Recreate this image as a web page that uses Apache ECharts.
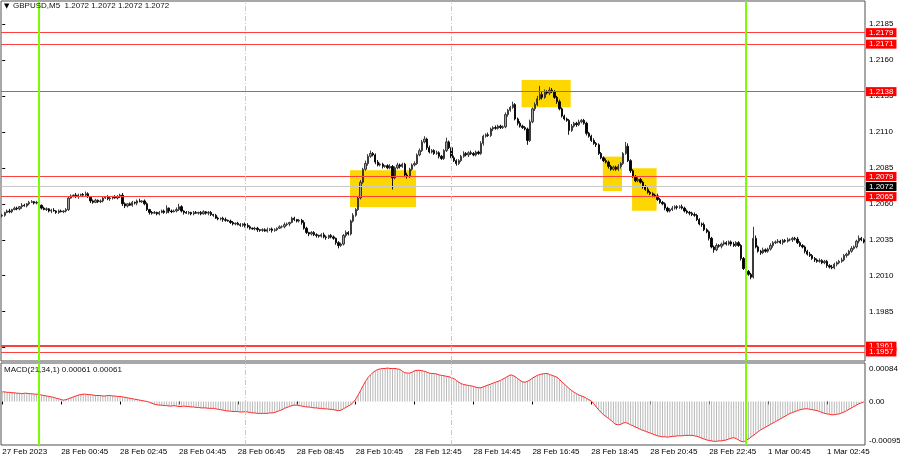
<!DOCTYPE html>
<html><head><meta charset="utf-8">
<script src="https://cdn.jsdelivr.net/npm/echarts@6/dist/echarts.min.js"></script>
<style>html,body{margin:0;padding:0;background:#fff}#c{width:900px;height:460px}</style>
</head><body><div id="c"></div>
<script>
// ---------- data (prices in pips above basePrice) ----------
const symbolText = 'GBPUSD,M5';
const headerQuote = '1.2072 1.2072 1.2072 1.2072';
const macdTitle = 'MACD(21,34,1) 0.00061 0.00061';
const basePrice = 1.2000;
const firstOpen = 51.5;
const closes = [
52,54,55,54.5,56,57,56.5,58,59,58.5,60,61,61.5,60.5,61,59,
57,56,56.5,55,55.5,55,54,55,54.5,55,56,64,65.5,66,65,66,
66.5,66,67,65,62,61,62.5,61.5,62,64,64.5,63.5,64,65,64,65,
66,60,58.5,60,59,61,60.5,62,61.5,62,60,56,54,53.5,54,53,
54,55,54,57,55,54.5,55,56,58,55,54,53.5,54,53,54,53.5,
54,53,54.5,53.5,54,52.5,52,50,49.5,50,49,48.5,48,47,46,46.5,
45.5,45,46,45,44,43,42.5,43,42,41.5,42,41,42,42.5,41.5,42,
43,44,44,45.5,46,47,50,49,48,48.5,47,43,40,39,40,38.5,
38,37.5,38.5,37,36.5,38,37,36,33,31,32,38,40,39,48,52,
56,64,75,84,88,93,95,94,89,87,87.5,86,86.5,85,86,78,
85,87,86,87.5,80,79,84,87,88,94,97,103,105,99,96,97,
95,95.5,93,91.5,97,103,99,92,90,88,90,93,95,94,95.5,95,
94,96,95,102,107,108,107.5,112,113,112.5,114,113,113.5,122,125,127,
129,119,116,114,113,112,104,117,126,129,133,136,134,138,137,139,
138,134,131,126,121,119,118,111,114,116,115,117,118,116,109,107,
104,102,101,95,92,90,89,86,84,85.5,84,86,88,95,100,90,
83,79,76,77,75,72,70,68,67,66,65.5,63,61,60,57,55,
56,57,58,57.5,58,57,55,54,53.5,52.5,52,49,46,45.5,42,40.5,
36,30,28,31,30.5,32,33,32,33.5,32,31,33,31,22,15,13,
11,9,36,30,27,26,28,27,28.5,31,33,33.5,34,33,34.5,34,
35,35,36,35.5,33,31,30,27,25,24,22,21,20,20.5,19,20,
17,16,15.5,18,19,20,21,24,25,27,29,30,34,36,35,33.5
];
const wickUp = [
1,0.5,1,1.5,0.5,1,1,0.5,1.5,1,0.5,1,1,0.5,1,1,
0.5,1,1,0.5,1,1.5,0.5,1,1,0.5,1,1,1,0.5,1.5,1,
0.5,1,1.5,1,0.5,1,1,0.5,1,1,0.5,1.5,1,0.5,1,1,
1,1.5,1,0.5,1,1,0.5,1,1.5,0.5,1,1,0.5,1,1,0.5,
1,1,1,2,0.5,1,1,1.5,2,1,0.5,1,1,0.5,1,1,
0.5,1,1,0.5,1,1,0.5,1,1,0.5,1,1.5,0.5,1,1,0.5,
1,1,0.5,1,1.5,1,0.5,1,1,0.5,1,1,1.5,0.5,1,1,
0.5,1,1,1.5,1,0.5,1,1,0.5,1,1,1.5,1,0.5,1,1,
1,0.5,1,1.5,1,0.5,1,1,0.5,1,1,1,1.5,1,1,1.5,
1,1,1.5,1,2,1.5,2,1,1,1.5,1,1,0.5,1,1.5,1,
1,1.5,1,1,1,1.5,1,1,1.5,1,1.5,1.5,2,1,1.5,1,
1,1.5,1,1,1,3,1,1,1.5,1,1,1,1.5,1,1,1.5,
1,1,1,1.5,1,1,1.5,1,1,1.5,1,1,1,1.5,1,1,
2,1,1,1.5,1,1,1,1.5,1,1.5,2,6,2,1.5,1,2,
1.5,1,1,1.5,1,1,1,1,1.5,1,1,1.5,1,1,1,1,
1,1.5,1,1,1,1,1.5,1,1,1,1,1.5,1,1,3,2,
1,1,1,1.5,1,1,1,1.5,1,1,1,1.5,1,1,1,1,
1,1.5,1,1,1,1.5,1,1,1,1,1.5,1,1,1,1.5,1,
1,1,1,1.5,1,1,1.5,1,1,1,1.5,1,1,1,1,1.5,
1,1,8,2,1,1,1.5,1,1,1.5,1,1,1.5,1,1,1,
1.5,1,1,1,1.5,1,1,1,1,1.5,1,1,1,1.5,1,1,
1,1,1.5,1,1,1,1.5,1,1,1,1.5,1,1,2,1,1
];
const wickDown = [
1,1,0.5,1,1,0.5,1,1,1.5,0.5,1,1,0.5,1,1,1,
1,0.5,1,1,1.5,0.5,1,1,0.5,1,1,1,0.5,1,1,1.5,
1,0.5,1,1,1.5,1,0.5,1,1,1,0.5,1,1.5,1,0.5,1,
1,1.5,1.5,1,0.5,1,1,1.5,0.5,1,1,1,1.5,1,0.5,1,
1,0.5,1,1,1.5,1,0.5,1,1,1,1.5,0.5,1,1,1,0.5,
1,1,0.5,1,1.5,1,1,0.5,1,1,1.5,1,0.5,1,1,1,
0.5,1,1,1.5,1,1,0.5,1,1.5,1,1,0.5,1,1,1.5,1,
1,0.5,1,1,1,1.5,0.5,1,1,1,1.5,1,1,1.5,1,1,
1.5,1,1,1,1.5,1,1,1,1.5,2,1,1,1.5,1,1,1,
1,1,1,1,1,1.5,1,1,1.5,1,1,1.5,1,1,1,8,
1,1,1.5,1,1.5,1.5,1,1,1,1,1,1,1,1.5,1,1,
1,1,1.5,1,1,1,1,1.5,1,1.5,1,1,1,1,1.5,1,
1,1,1,1,1.5,1,1,1,1.5,1,1,1,1,1,1.5,1,
1,1,1.5,1,1,1,3,1,1,1.5,1,1,1.5,1,1,1.5,
1,1,1.5,1,1,1,1,3,1,1,1.5,1,1,1,1.5,1,
1,1,1.5,1,1,1,1,1.5,1,1,1,1,1.5,1,1,1,
1.5,1,1,1,1,1.5,1,1,1,1.5,1,1,1,1,1.5,1,
1,1,1,1.5,1,1,1,1,1.5,1,1,1,1,1.5,1,1,
1.5,1,2,1,1,1.5,1,1,1,1.5,1,1,1,1.5,1,1,
1,1.5,1,1,1,1.5,1,1,1,1,1.5,1,1,1,1.5,1,
1,1,1.5,1,1,1,1,1.5,1,1,1,1.5,1,1,1,1,
1.5,1,1,1,1.5,1,1,1,1.5,1,1,1,1,1.5,1,1
];
// MACD main values, in units of 0.00001
const macd = [
21,21,20,20,19,19,18,
18,17,18,18,17,17,16,16,15,
14,13,12,11,10,9,7,6,4,3,
4,6,8,10,12,14,15,16,16,15,
15,14,13,13,13,12,12,13,13,12,12,11,11,
10,9,8,7,6,5,4,3,2,
1,0,-2,-4,-6,-7,-8,
-8,-9,-9,-10,-10,-9,-10,-11,-11,-10,-11,
-11,-12,-12,-13,-13,-14,-14,-14,-15,-15,-15,
-16,-17,-18,-19,-20,-21,-21,-22,
-22,-22,-23,-23,-22,-23,-24,
-25,-25,-26,-26,-26,-26,-26,-25,-25,-24,-22,-20,
-18,-15,-13,-11,-9,-8,-8,-9,
-10,-11,-12,-12,-13,-14,-14,-15,-15,-16,-16,-17,-17,-18,
-19,-20,-19,
-16,-13,-10,-7,
-2,5,14,24,34,44,52,
58,63,67,70,
71,72,72,73,72,72,72,71,70,
66,63,62,62,64,
67,68,68,67,66,64,
62,61,61,60,
58,57,56,55,54,
52,50,46,42,
39,37,36,35,34,33,
31,30,30,
32,34,36,38,40,42,44,46,49,52,55,58,
57,54,50,46,43,42,44,
47,51,54,57,59,60,61,61,
59,57,55,53,
48,43,38,33,28,24,20,17,14,12,10,
7,4,1,
-5,-12,-18,-24,-29,-33,-37,-41,
-46,-50,-51,-50,
-47,-46,-48,
-51,-53,-56,-58,-61,-63,-65,-67,-69,
-71,-73,-75,-76,-77,-77,-78,-77,
-76,-76,-75,-75,-75,-74,-74,-74,-74,-75,-76,
-78,-80,-82,-84,-85,
-86,-87,-87,-86,-86,-85,-84,-82,-80,
-79,-81,-84,
-87,-88,-85,
-82,-78,-74,-70,-66,-62,-59,-56,-53,-50,-47,-44,-41,-38,-35,
-32,-29,-26,-24,-22,-20,-18,
-17,-16,-16,
-17,-18,-19,-20,
-22,-24,-26,-27,-28,-29,-29,
-28,-27,-25,-23,
-20,-17,-14,-11,-8,-5,-3,-1
];
const levels = [1.2179, 1.2171, 1.2138, 1.2079, 1.2065, 1.1961, 1.1957];
const bidPrice = 1.2072;
const priceTicks = [1.2185, 1.2160, 1.2135, 1.2110, 1.2085, 1.2060, 1.2035, 1.2010, 1.1985, 1.1960];
const macdTicks = [84, 0, -95];
const macdTickLabels = ['0.00084', '0.00', '-0.00095'];
const timeTickIdx = [0, 24, 48, 72, 96, 120, 144, 168, 192, 216, 240, 264, 288, 312, 336];
const timeTickLabels = ['27 Feb 2023', '28 Feb 00:45', '28 Feb 02:45', '28 Feb 04:45', '28 Feb 06:45',
  '28 Feb 08:45', '28 Feb 10:45', '28 Feb 12:45', '28 Feb 14:45', '28 Feb 16:45', '28 Feb 18:45',
  '28 Feb 20:45', '28 Feb 22:45', '1 Mar 00:45', '1 Mar 02:45'];
const dayLineIdx = [15, 303];      // 28 Feb 00:00, 1 Mar 00:00
const sessionLineIdx = [99, 183];  // 28 Feb 07:00, 28 Feb 14:00
// highlighted zones: [startBar, topPrice, endBar, bottomPrice]
const zoneStart = [141.7, 211.6, 244.7, 256.6];
const zoneEnd = [168.6, 231.6, 252.5, 266.6];
const zoneTop = [1.20833, 1.21461, 1.20928, 1.20847];
const zoneBottom = [1.20578, 1.21271, 1.20689, 1.20552];

// ---------- build ----------
const P = p => +(basePrice + p / 10000).toFixed(5);
const N = closes.length;
const candles = closes.map((c, i) => {
  const o = i === 0 ? firstOpen : closes[i - 1];
  return [i, P(o), P(c), P(Math.min(o, c) - wickDown[i]), P(Math.max(o, c) + wickUp[i])];
});
const macdData = macd.map((v, i) => [i, v]);
const FONT = 'Liberation Sans, DejaVu Sans, sans-serif';
const xMin = -0.5, xMax = N - 0.5;

const vLines = [
  ...dayLineIdx.map(x => ({ xAxis: x, lineStyle: { color: '#7cfc00', width: 2, type: 'solid' } })),
  ...sessionLineIdx.map(x => ({ xAxis: x, lineStyle: { color: '#a6f05a', width: 1, type: [5, 2, 1, 2] } }))
];
const lvlLabel = bg => ({ show: true, position: 'end', distance: 1, formatter: p => (+p.value).toFixed(4), color: '#fff',
  backgroundColor: bg, padding: [1, 3, 0, 3], fontSize: 8, fontFamily: FONT });

const chart = echarts.init(document.getElementById('c'), null, { renderer: 'canvas' });
chart.setOption({
  animation: false,
  backgroundColor: '#ffffff',
  textStyle: { fontFamily: FONT },
  graphic: [
    { type: 'text', left: 4, top: 3, z: 100, style: { text: '▼', fontSize: 7, fill: '#000', fontFamily: 'DejaVu Sans' } },
    { type: 'text', left: 13, top: 2, z: 100, style: { text: symbolText + '  ' + headerQuote, fontSize: 8, fill: '#111', fontFamily: FONT } },
    { type: 'text', left: 4, top: 366, z: 100, style: { text: macdTitle, fontSize: 8, fill: '#111', fontFamily: FONT } }
  ],
  grid: [
    { left: 1, top: 1, width: 864, height: 360, show: true, borderColor: '#505050', borderWidth: 1, backgroundColor: 'transparent', outerBoundsMode: 'none', containLabel: false },
    { left: 1, top: 363, width: 864, height: 82, show: true, borderColor: '#505050', borderWidth: 1, backgroundColor: 'transparent', outerBoundsMode: 'none', containLabel: false }
  ],
  xAxis: [
    { type: 'value', gridIndex: 0, min: xMin, max: xMax, show: false, splitLine: { show: false } },
    { type: 'value', gridIndex: 1, min: xMin, max: xMax, splitLine: { show: false },
      axisLine: { show: false },
      axisTick: { show: true, length: 3, customValues: timeTickIdx, lineStyle: { color: '#000' } },
      axisLabel: { customValues: timeTickIdx, align: 'left', margin: 3, fontSize: 8, color: '#000', fontFamily: FONT, hideOverlap: false,
        formatter: v => { const k = timeTickIdx.indexOf(Math.round(v)); return k >= 0 ? timeTickLabels[k] : ''; } } }
  ],
  yAxis: [
    { type: 'value', gridIndex: 0, position: 'right', min: 1.19507, max: 1.2201,
      splitLine: { show: false }, axisLine: { show: false },
      axisTick: { show: true, length: 3, customValues: priceTicks, lineStyle: { color: '#000' } },
      axisLabel: { customValues: priceTicks, margin: 4, fontSize: 8, color: '#000', fontFamily: FONT,
        formatter: v => v.toFixed(4) } },
    { type: 'value', gridIndex: 1, position: 'right', min: -95, max: 84,
      splitLine: { show: false }, axisLine: { show: false },
      axisTick: { show: false },
      axisLabel: { customValues: macdTicks, margin: 4, fontSize: 8, color: '#000', fontFamily: FONT,
        formatter: v => { const k = macdTicks.indexOf(Math.round(v)); const t = k >= 0 ? macdTickLabels[k] : '';
          return k === 0 ? '{t|' + t + '}' : (k === 2 ? '{b|' + t + '}' : t); },
        rich: { t: { fontSize: 8, color: '#000', padding: [12, 0, 0, 0] }, b: { fontSize: 8, color: '#000', padding: [0, 0, 8, 0] } } } }
  ],
  series: [
    { type: 'line', xAxisIndex: 0, yAxisIndex: 0, data: [], z: 1, silent: true,
      markArea: { silent: true, itemStyle: { color: '#ffd700' },
        data: zoneStart.map((s, k) => [{ xAxis: s, yAxis: zoneTop[k] }, { xAxis: zoneEnd[k], yAxis: zoneBottom[k] }]) },
      markLine: { silent: true, symbol: 'none', precision: 5, label: { show: false }, data: vLines } },
    { type: 'candlestick', xAxisIndex: 0, yAxisIndex: 0, z: 3, data: candles,
      encode: { x: 0, y: [1, 2, 3, 4] }, barWidth: 1.8,
      itemStyle: { color: '#a0a0a0', color0: '#000000', borderColor: '#2a2a2a', borderColor0: '#000000', borderWidth: 0.9 },
      markLine: { silent: true, symbol: 'none', precision: 5, z: 4,
        data: [
          { yAxis: bidPrice, lineStyle: { color: '#c8c8c8', width: 1, type: 'solid' }, label: lvlLabel('#000000') },
          ...levels.map(v => ({ yAxis: v, lineStyle: { color: '#ff4040', width: v === 1.1961 ? 2 : 1, type: 'solid' },
            label: lvlLabel('#ff0000') }))
        ] } },
    { type: 'line', xAxisIndex: 1, yAxisIndex: 1, data: [], z: 1, silent: true,
      markLine: { silent: true, symbol: 'none', precision: 5, label: { show: false }, data: vLines } },
    { type: 'custom', xAxisIndex: 1, yAxisIndex: 1, data: macdData, z: 2, silent: true,
      encode: { x: 0, y: 1 },
      renderItem: (params, api) => {
        const base = api.coord([api.value(0), 0]);
        const top = api.coord([api.value(0), api.value(1)]);
        return { type: 'rect', shape: { x: base[0] - 0.5, y: Math.min(base[1], top[1]), width: 1, height: Math.abs(top[1] - base[1]) },
          style: { fill: '#b8b8b8' } };
      } },
    { type: 'line', xAxisIndex: 1, yAxisIndex: 1, data: macdData, z: 3, showSymbol: false, symbol: 'none',
      lineStyle: { color: '#ff2a2a', width: 1 }, silent: true }
  ]
});
</script>
</body></html>
